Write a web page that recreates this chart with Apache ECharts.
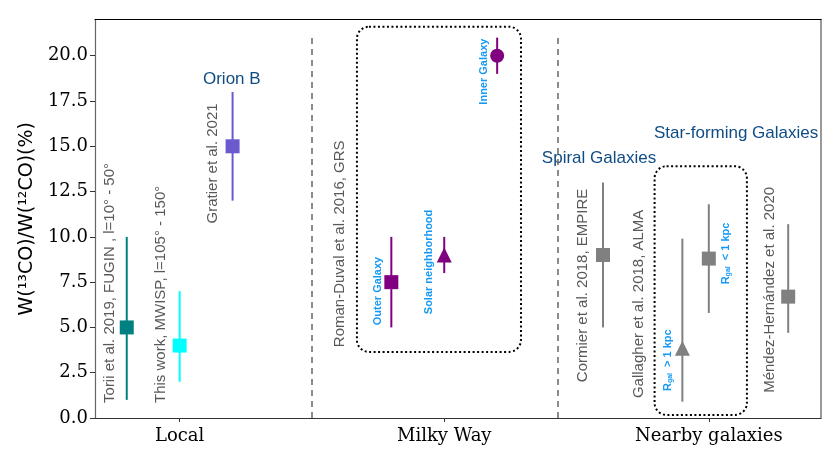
<!DOCTYPE html>
<html>
<head>
<meta charset="utf-8">
<script src="https://cdn.jsdelivr.net/npm/echarts@6/dist/echarts.min.js"></script>
<style>html,body{margin:0;padding:0;background:#fff}#c{width:830px;height:467px}</style>
</head>
<body>
<div id="c"></div>
<script>
// ---- data ----
const groupTicks = [0, 1, 2];
const groupLabels = ['Local', 'Milky Way', 'Nearby galaxies'];
const yTicks = [0, 2.5, 5, 7.5, 10, 12.5, 15, 17.5, 20];

const pointNames = ['Torii et al. 2019', 'This work', 'Gratier et al. 2021', 'Outer Galaxy', 'Solar neighborhood', 'Inner Galaxy', 'Cormier et al. 2018', 'Gallagher Rgal>1kpc', 'Gallagher Rgal<1kpc', 'Méndez-Hernández et al. 2020'];
const pointX = [-0.2, 0, 0.2, 0.8, 1.0, 1.2, 1.6, 1.9, 2.0, 2.3];
const ratio = [5, 4, 15, 7.5, 9, 20, 9, 3.85, 8.8, 6.7];
const errLow = [1, 2, 12, 5, 8, 19, 5, 0.9, 5.8, 4.7];
const errHigh = [10, 7, 18, 10, 10, 21, 13, 9.9, 11.8, 10.7];

const separators = [0.5, 1.43];

// annotation texts [x, y, text]
const grayNotes = [
  [-0.265, 0.83, 'Torii et al. 2019, FUGIN , l=10° - 50°'],
  [-0.072, 0.83, 'This work, MWISP, l=105° - 150°'],
  [0.125, 10.74, 'Gratier et al. 2021'],
  [0.605, 3.91, 'Roman-Duval et al. 2016, GRS'],
  [1.525, 1.98, 'Cormier et al. 2018, EMPIRE'],
  [1.737, 1.1, 'Gallagher et al. 2018, ALMA'],
  [2.23, 1.39, 'Méndez-Hernández et al. 2020']
];
const blueNotes = [
  [0.748, 5.12, 'Outer Galaxy'],
  [0.943, 5.73, 'Solar neighborhood'],
  [1.151, 17.3, 'Inner Galaxy'],
  [1.846, 1.49, 'R|gal| > 1 kpc'],
  [2.065, 7.38, 'R|gal| < 1 kpc']
];
const titleNotes = [
  [0.197, 18.68, 'Orion B'],
  [1.585, 14.33, 'Spiral Galaxies'],
  [2.103, 15.7, 'Star-forming Galaxies']
];
// dotted boxes [x0, x1, y0, y1]
const boxes = [
  [0.67, 1.29, 3.65, 21.6],
  [1.795, 2.144, 0.17, 13.9]
];

// ---- styles ----
const pointStyle = [
  {symbol: 'rect', color: '#008080', size: 14},
  {symbol: 'rect', color: '#00FFFF', size: 14},
  {symbol: 'rect', color: '#6A5ACD', size: 14},
  {symbol: 'rect', color: '#800080', size: 14},
  {symbol: 'triangle', color: '#800080', size: 15},
  {symbol: 'circle', color: '#800080', size: 14},
  {symbol: 'rect', color: '#808080', size: 14},
  {symbol: 'triangle', color: '#808080', size: 15},
  {symbol: 'rect', color: '#808080', size: 14},
  {symbol: 'rect', color: '#808080', size: 14}
];

const chart = echarts.init(document.getElementById('c'));

const scatterData = pointX.map((x, i) => ({
  value: [x, ratio[i]],
  name: pointNames[i],
  symbol: pointStyle[i].symbol,
  symbolSize: pointStyle[i].size,
  itemStyle: {color: pointStyle[i].color, opacity: 1}
}));
const errData = pointX.map((x, i) => [x, errLow[i], errHigh[i], i]);

function rotLabel(color, size, weight) {
  return {
    show: true, position: 'inside', rotate: 90, align: 'left', verticalAlign: 'middle',
    fontFamily: 'Liberation Sans', fontSize: size, fontWeight: weight, color: color, opacity: 1,
    formatter: p => {
      const t = p.data[2];
      if (t.indexOf('|') >= 0) {
        const parts = t.split('|');
        return '{a|' + parts[0] + '}{s|' + parts[1] + '}{a|' + parts[2] + '}';
      }
      return t;
    },
    rich: {
      a: {fontFamily: 'Liberation Sans', fontSize: size, fontWeight: weight, color: color},
      s: {fontFamily: 'Liberation Sans', fontSize: 7, fontWeight: weight, color: color, verticalAlign: 'bottom', padding: [4, 3, 0, 0]}
    }
  };
}

const option = {
  animation: false,
  grid: {left: 95, right: 9, top: 19.5, bottom: 49},
  xAxis: [{
    type: 'value', min: -0.32, max: 2.424, position: 'bottom',
    splitLine: {show: false},
    axisLine: {show: true, onZero: false, lineStyle: {color: '#333', width: 1.2}},
    axisTick: {show: true, customValues: groupTicks, length: 4, lineStyle: {color: '#333'}},
    axisLabel: {customValues: groupTicks, formatter: v => groupLabels[groupTicks.indexOf(Math.round(v))] || '',
      fontFamily: 'DejaVu Serif', fontSize: 18, color: '#000', margin: 9}
  }, {
    type: 'value', min: -0.32, max: 2.424, position: 'top',
    splitLine: {show: false}, axisTick: {show: false}, axisLabel: {show: false},
    axisLine: {show: true, onZero: false, lineStyle: {color: '#000', width: 1.2}}
  }],
  yAxis: [{
    type: 'value', min: 0, max: 22, position: 'left',
    name: 'W(¹³CO)/W(¹²CO)(%)', nameLocation: 'middle', nameGap: 55,
    nameTextStyle: {fontFamily: 'DejaVu Sans', fontSize: 19, color: '#000'},
    splitLine: {show: false},
    axisLine: {show: true, onZero: false, lineStyle: {color: '#666', width: 1.2}},
    axisTick: {show: true, customValues: yTicks, length: 5, lineStyle: {color: '#333'}},
    axisLabel: {customValues: yTicks, formatter: v => v.toFixed(1),
      fontFamily: 'DejaVu Serif', fontSize: 18, color: '#000', margin: 7}
  }, {
    type: 'value', min: 0, max: 22, position: 'right',
    splitLine: {show: false}, axisTick: {show: false}, axisLabel: {show: false},
    axisLine: {show: true, onZero: false, lineStyle: {color: '#777', width: 1.5}}
  }],
  series: [
    {
      type: 'custom', name: 'boxes', z: 1,
      data: boxes,
      renderItem: (params, api) => {
        const p0 = api.coord([api.value(0), api.value(3)]);
        const p1 = api.coord([api.value(1), api.value(2)]);
        return {
          type: 'rect',
          shape: {x: p0[0], y: p0[1], width: p1[0] - p0[0], height: p1[1] - p0[1], r: 12},
          style: {fill: 'none', stroke: '#000', lineWidth: 2, lineDash: [2, 2.5]}
        };
      },
      silent: true
    },
    {
      type: 'custom', name: 'errors', z: 2,
      data: errData,
      renderItem: (params, api) => {
        const lo = api.coord([api.value(0), api.value(1)]);
        const hi = api.coord([api.value(0), api.value(2)]);
        return {
          type: 'line',
          shape: {x1: lo[0], y1: lo[1], x2: hi[0], y2: hi[1]},
          style: {stroke: pointStyle[api.value(3)].color, lineWidth: 2}
        };
      },
      markLine: {
        silent: true, symbol: 'none', label: {show: false},
        lineStyle: {color: '#666', type: [6, 5], width: 1.5},
        data: separators.map(x => [{coord: [x, 0]}, {coord: [x, 21.2]}])
      }
    },
    {
      type: 'scatter', name: 'points', z: 3,
      data: scatterData
    },
    {
      type: 'scatter', z: 4, symbolSize: 0, silent: true,
      data: grayNotes, label: rotLabel('#595959', 15, 'normal')
    },
    {
      type: 'scatter', z: 4, symbolSize: 0, silent: true,
      data: blueNotes, label: rotLabel('#1499f5', 11, 'bold')
    },
    {
      type: 'scatter', z: 4, symbolSize: 0, silent: true,
      data: titleNotes,
      label: {show: true, position: 'inside', align: 'center', verticalAlign: 'middle', opacity: 1,
        fontFamily: 'Liberation Sans', fontSize: 17, color: '#0f4c84', formatter: p => p.data[2]}
    }
  ]
};
chart.setOption(option);
</script>
</body>
</html>
